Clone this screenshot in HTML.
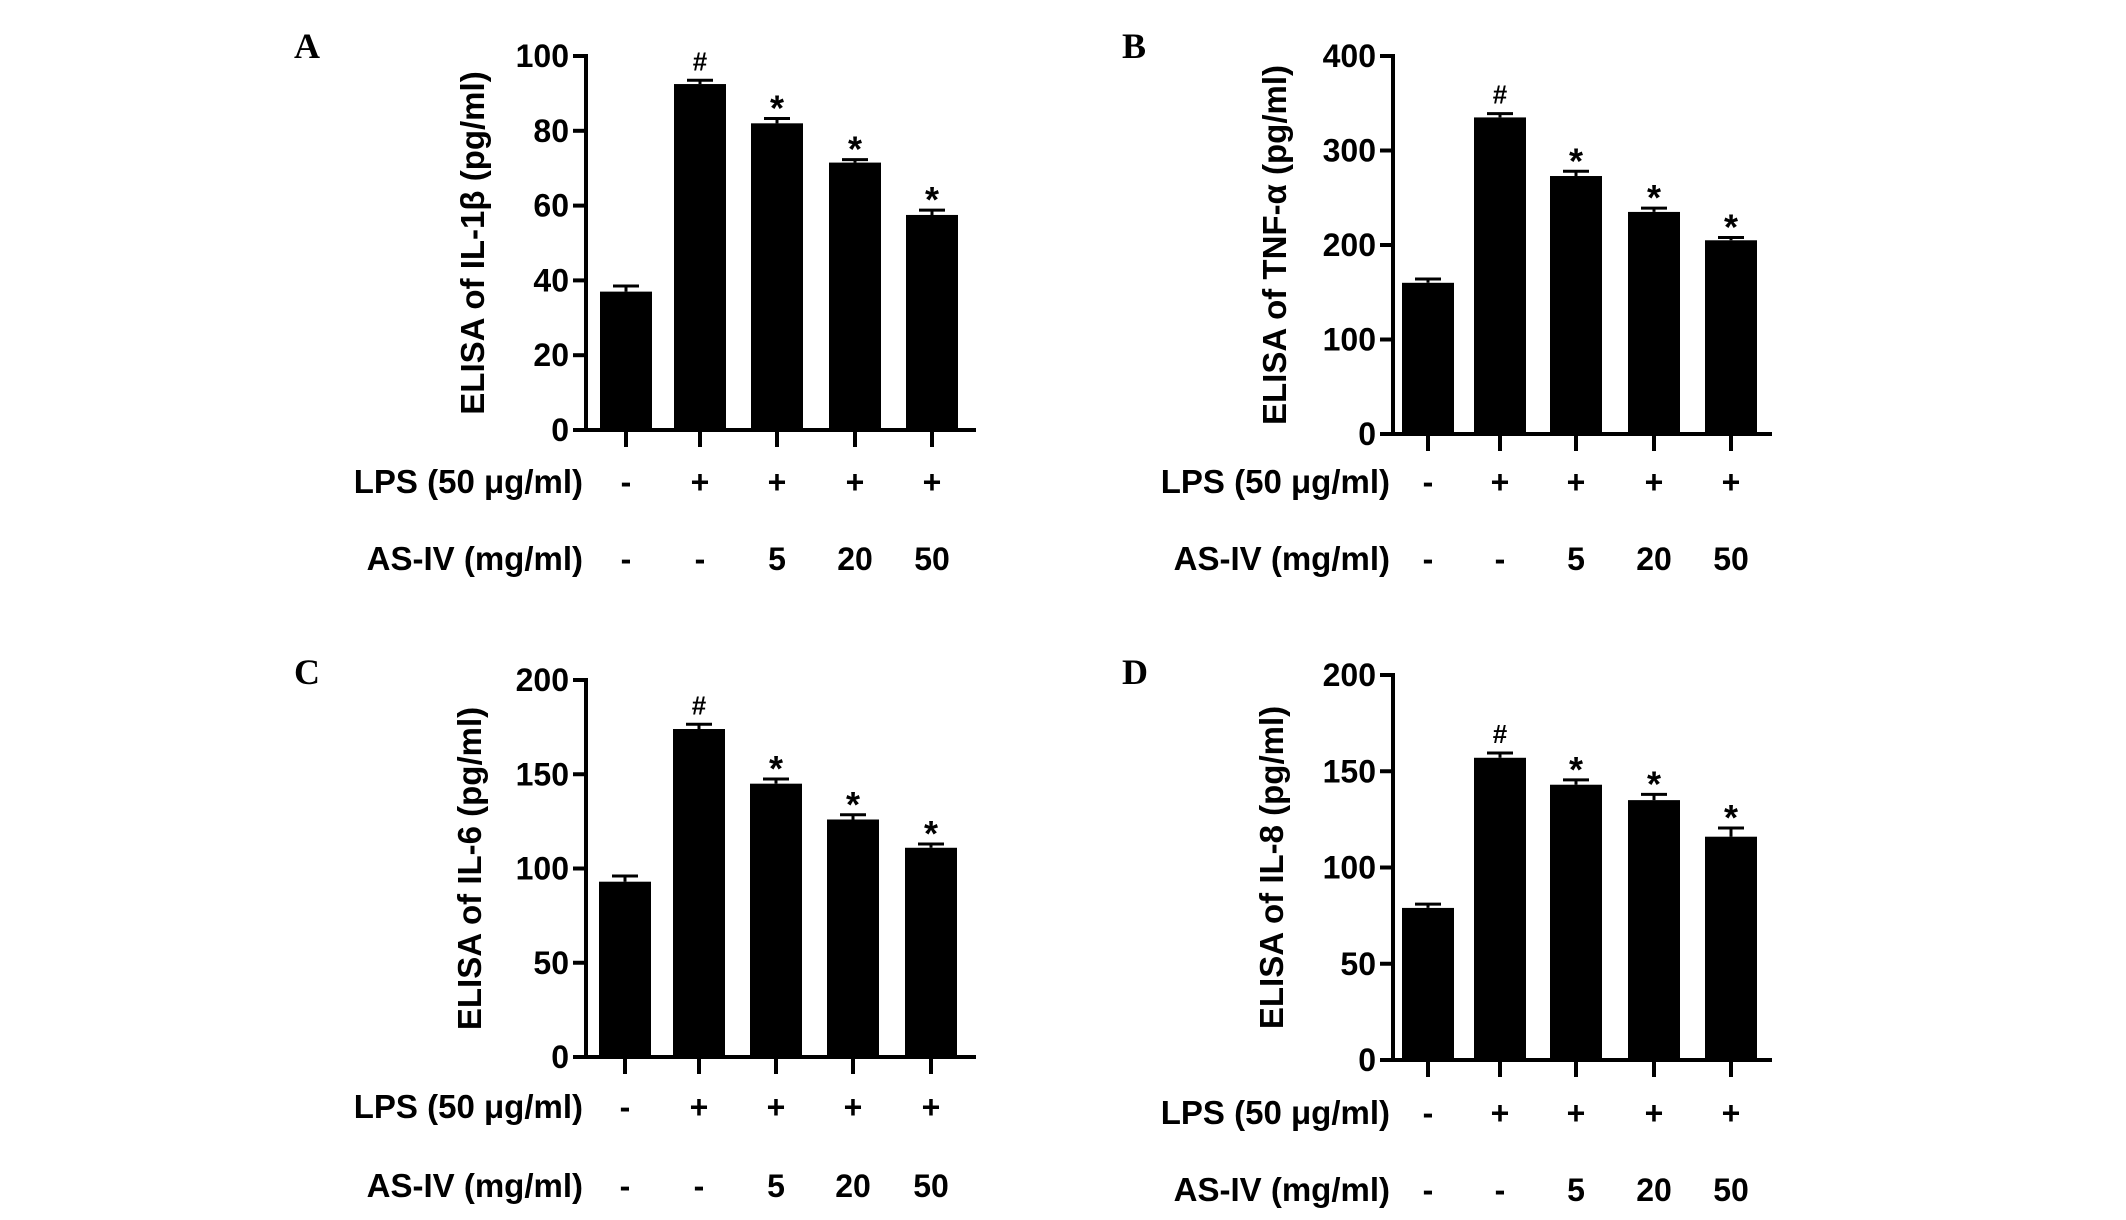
<!DOCTYPE html>
<html><head><meta charset="utf-8">
<style>
html,body{margin:0;padding:0;background:#fff;}
svg{display:block;}
text{font-family:"Liberation Sans",Arial,sans-serif;font-weight:bold;fill:#000;}
.pl{font-family:"Liberation Serif",serif;font-weight:bold;font-size:36px;}
</style></head>
<body>
<svg id="fig" width="2126" height="1220" viewBox="0 0 2126 1220" xmlns="http://www.w3.org/2000/svg"></svg>
<script>
const groups = ["ctrl","lps","lps-as5","lps-as20","lps-as50"];
const lpsLabels = ["-","+","+","+","+"];
const asLabels = ["-","-","5","20","50"];
const marks = ["","#","*","*","*"];
const valuesA = [37,92.5,82,71.5,57.5];
const errorsA = [1.5,1,1.3,0.8,1.3];
const ticksA = [0,20,40,60,80,100];
const valuesB = [160,335,273,235,205];
const errorsB = [4,4,5,4,3];
const ticksB = [0,100,200,300,400];
const valuesC = [93,174,145,126,111];
const errorsC = [3,2.5,2.5,2.5,2];
const ticksC = [0,50,100,150,200];
const valuesD = [79,157,143,135,116];
const errorsD = [2,2.5,2.5,3,4.5];
const ticksD = [0,50,100,150,200];

const NS="http://www.w3.org/2000/svg";
const svg=document.getElementById('fig');
function mk(tag,attrs,parent,txt){const e=document.createElementNS(NS,tag);for(const k in attrs)e.setAttribute(k,attrs[k]);if(txt!==undefined)e.textContent=txt;(parent||svg).appendChild(e);return e;}

function panel(cfg){
  const g=mk('g',{});
  
  
  const {ax,top,bot,xend,centers,vals,errs,ticks,lpsY,asY,titleX}=cfg;
  const ymax=ticks[ticks.length-1];
  const y=v=>bot-(v/ymax)*(bot-top);
  const bw=52;
  const L=mk('text',{x:cfg.lx,y:cfg.ly,'class':'pl'},g,cfg.letter);
  
  
  vals.forEach((v,i)=>{
    const cx=centers[i];
    const b=mk('rect',{x:cx-bw/2,y:y(v),width:bw,height:bot-y(v),fill:'#000'},g);
    
    
    const et=y(v+errs[i]);
    const e=mk('path',{d:`M${cx},${y(v)} V${et} M${cx-13},${et} H${cx+13}`,stroke:'#000','stroke-width':3,fill:'none'},g);
    
    
    if(marks[i]){
      const m=mk('text',{x:cx,y:et-(marks[i]==='#'?10:-2),'text-anchor':'middle','font-size':marks[i]==='#'?'26px':'36px'},g,marks[i]);
      
      
    }
    const t=mk('line',{x1:cx,x2:cx,y1:bot,y2:bot+17,stroke:'#000','stroke-width':4},g);
    
    
    const l1=mk('text',{x:cx,y:lpsY+11,'text-anchor':'middle','font-size':'32px'},g,lpsLabels[i]);
    
    
    const l2=mk('text',{x:cx,y:asY+11,'text-anchor':'middle','font-size':'32px'},g,asLabels[i]);
    
    
  });
  const a=mk('path',{d:`M${ax},${top-2} V${bot} H${xend}`,stroke:'#000','stroke-width':4,fill:'none'},g);
  
  
  ticks.forEach(t=>{
    const tl=mk('line',{x1:ax-13,x2:ax,y1:y(t),y2:y(t),stroke:'#000','stroke-width':4},g);
    
    
    const tt=mk('text',{x:ax-17,y:y(t)+11,'text-anchor':'end','font-size':'32px'},g,String(t));
    
    
  });
  const cy=(top+bot)/2;
  const yt=mk('text',{x:titleX,y:cy,'text-anchor':'middle','font-size':'33px',transform:`rotate(-90 ${titleX} ${cy})`},g,cfg.title);
  
  
  const r1=mk('text',{x:ax-3,y:lpsY+11,'text-anchor':'end','font-size':'33px'},g,'LPS (50 \u03bcg/ml)');
  
  
  const r2=mk('text',{x:ax-3,y:asY+11,'text-anchor':'end','font-size':'33px'},g,'AS-IV (mg/ml)');
  
  
}
const cL=[626,700,777,855,932], cR=[1428,1500,1576,1654,1731];
panel({letter:'A',lx:294,ly:58,ax:586,top:56,bot:430,xend:976,centers:cL,vals:valuesA,errs:errorsA,ticks:ticksA,lpsY:482,asY:559,titleX:484,title:'ELISA of IL-1\u03b2 (pg/ml)'});
panel({letter:'B',lx:1122,ly:58,ax:1393,top:56,bot:434,xend:1772,centers:cR,vals:valuesB,errs:errorsB,ticks:ticksB,lpsY:482,asY:559,titleX:1286,title:'ELISA of TNF-\u03b1  (pg/ml)'});
panel({letter:'C',lx:294,ly:684,ax:586,top:680,bot:1057,xend:976,centers:[625,699,776,853,931],vals:valuesC,errs:errorsC,ticks:ticksC,lpsY:1107,asY:1186,titleX:481,title:'ELISA of IL-6 (pg/ml)'});
panel({letter:'D',lx:1122,ly:684,ax:1393,top:675,bot:1060,xend:1772,centers:cR,vals:valuesD,errs:errorsD,ticks:ticksD,lpsY:1113,asY:1190,titleX:1283,title:'ELISA of IL-8 (pg/ml)'});
</script>
</body></html>
